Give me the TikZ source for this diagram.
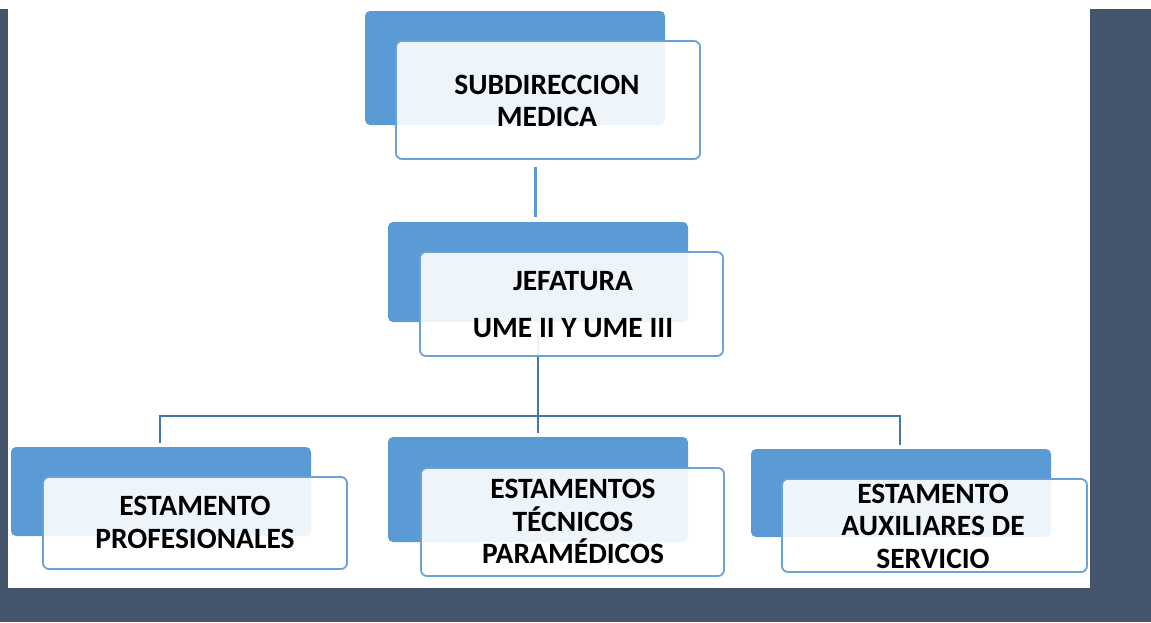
\documentclass[tikz,border=0pt]{standalone}
\usepackage{fontspec}
\setmainfont{Carlito}
\definecolor{slate}{HTML}{44546A}
\definecolor{accent}{HTML}{5B9BD5}
\definecolor{frame}{HTML}{69A2D8}
\definecolor{tree}{HTML}{4576A8}
\begin{document}
\begin{tikzpicture}[x=1pt,y=-1pt,
  backbox/.style={fill=accent, rounded corners=5pt},
  frontbox/.style={draw=frame, line width=1.8pt, fill=white, fill opacity=0.9, draw opacity=1, rounded corners=6pt, inner sep=0pt, minimum width=#1},
  lbl/.style={font=\fontsize{29.5}{32.5}\selectfont\bfseries, align=center, inner sep=0pt, text=black},
  link/.style={draw=accent, line width=3pt},
  treeline/.style={draw=tree, line width=2.2pt}]
\useasboundingbox (0,0) rectangle (1151,622);
% background frame
\fill[slate] (0,9) rectangle (8,622);
\fill[slate] (1090,9) rectangle (1151,622);
\fill[slate] (0,588) rectangle (1151,622);

% back boxes
\fill[backbox] (365,11) rectangle (665,125);
\fill[backbox] (388,222) rectangle (688,322);
\fill[backbox] (11,447) rectangle (311,536);
\fill[backbox] (388,437) rectangle (688,542);
\fill[backbox] (751,449) rectangle (1051,537);

% connectors
\coordinate (topdown) at (535,167);
\coordinate (midup) at (535,217);
\coordinate (midout) at (538,330);
\coordinate (hub) at (538,416);
\coordinate (leftin) at (160,443);
\coordinate (centin) at (538,433);
\coordinate (rightin) at (900,445);
\draw[link] (topdown) -- (midup);
\draw[treeline] (midout) -- (centin);
\draw[treeline] (leftin) |- (hub);
\draw[treeline] (hub) -| (rightin);

% front boxes
\node[frontbox=304pt, minimum height=118pt] (sub) at (548,100) {};
\node[frontbox=303pt, minimum height=104pt] (jef) at (571.5,304) {};
\node[frontbox=304pt, minimum height=92pt] (prof) at (195,523) {};
\node[frontbox=303pt, minimum height=108pt] (tec) at (572.5,522) {};
\node[frontbox=305pt, minimum height=93pt] (aux) at (934.5,525.5) {};

% labels
\node[lbl] (subt) at (547,101) {SUBDIRECCION\\MEDICA};
\node[lbl] (jeft) at (573,304.5) {JEFATURA\\[14pt]UME II Y UME III};
\node[lbl] (proft) at (195,522.5) {ESTAMENTO\\PROFESIONALES};
\node[lbl] (tect) at (573,521.5) {ESTAMENTOS\\TÉCNICOS\\PARAMÉDICOS};
\node[lbl] (auxt) at (933,526) {ESTAMENTO\\AUXILIARES DE\\SERVICIO};
\end{tikzpicture}
\end{document}
